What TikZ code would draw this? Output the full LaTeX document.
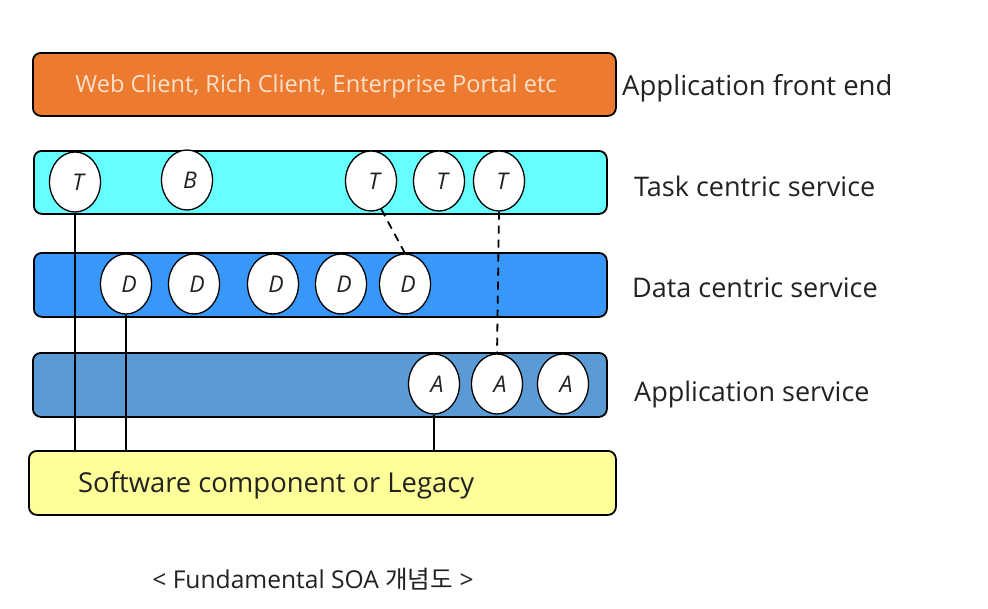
\documentclass[tikz,border=0pt]{standalone}
\usepackage{fontspec}
\setmainfont{Open Sans}
\newfontfamily\krfont{Noto Sans CJK KR}
\usetikzlibrary{shapes.geometric}
\definecolor{cOrange}{HTML}{EC7B30}
\definecolor{cCyan}{HTML}{66FFFF}
\definecolor{cData}{HTML}{3798FA}
\definecolor{cApp}{HTML}{5B9BD5}
\definecolor{cYellow}{HTML}{FFFF99}
\definecolor{cPeach}{HTML}{FBE0CC}
\definecolor{cText}{HTML}{222222}
\newcommand{\svcletter}[1]{\hspace*{6pt}#1}
\begin{document}
\begin{tikzpicture}[x=1pt,y=-1pt,
  layer/.style={draw=black,line width=1.8pt,rounded corners=8pt},
  svc/.style={ellipse,draw=black,line width=1.3pt,fill=white,inner sep=0pt,
    minimum width=51pt,minimum height=60pt,text=cText,font=\fontsize{23}{23}\selectfont\itshape},
  lbl/.style={anchor=west,inner sep=0pt,text=cText,font=\fontsize{27}{27}\selectfont},
  conn/.style={line width=1.8pt},
  dconn/.style={line width=1.8pt,dash pattern=on 8pt off 6pt}]
\useasboundingbox (0,0) rectangle (988,608);
\fill[white] (0,0) rectangle (988,608);
% layers
\node[layer,fill=cOrange,minimum width=583pt,minimum height=63pt,anchor=north west] (front) at (32,52) {};
\node[layer,fill=cCyan,minimum width=573pt,minimum height=63pt,anchor=north west] (task) at (33,150) {};
\node[layer,fill=cData,minimum width=573pt,minimum height=64pt,anchor=north west] (data) at (33,252) {};
\node[layer,fill=cApp,minimum width=574pt,minimum height=64pt,anchor=north west] (app) at (32,352) {};
\node[layer,fill=cYellow,minimum width=587pt,minimum height=64pt,anchor=north west] (soft) at (28,450) {};
\node[inner sep=0pt,text=cPeach,font=\fontsize{23.6}{23.6}\selectfont] (fronttext) at (316,86) {Web Client, Rich Client, Enterprise Portal etc};
\node[lbl,font=\fontsize{27.4}{27.4}\selectfont] (softtext) at (78,485) {Software component or Legacy};
% services
\node[svc] (t1) at (75,182) {\svcletter{T}};
\node[svc] (b1) at (187,180) {\svcletter{B}};
\node[svc] (t3) at (371,181) {\svcletter{T}};
\node[svc] (t4) at (439,181) {\svcletter{T}};
\node[svc] (t5) at (499,181) {\svcletter{T}};
\node[svc] (d1) at (126,284) {\svcletter{D}};
\node[svc] (d2) at (194,284) {\svcletter{D}};
\node[svc] (d3) at (273,284) {\svcletter{D}};
\node[svc] (d4) at (341,284) {\svcletter{D}};
\node[svc] (d5) at (405,284) {\svcletter{D}};
\node[svc] (a1) at (434,384) {\svcletter{A}};
\node[svc] (a2) at (497,384) {\svcletter{A}};
\node[svc] (a3) at (563,384) {\svcletter{A}};
% connectors
\draw[conn] (t1.south) -- (t1.south |- soft.north);
\draw[conn] (d1.south) -- (d1.south |- soft.north);
\draw[conn] (a1.south) -- (a1.south |- soft.north);
\draw[dconn] (t3.-70) -- (d5.north);
\draw[dconn] (t5.south) -- (a2.north);
% labels
\node[lbl,font=\fontsize{27.5}{27.5}\selectfont] (lfront) at (622,88) {Application front end};
\node[lbl] (ltask) at (634,186) {Task centric service};
\node[lbl] (ldata) at (632,288) {Data centric service};
\node[lbl] (lapp) at (634,394) {Application service};
\node[inner sep=0pt,text=cText,font=\fontsize{24.6}{24.6}\selectfont] (caption) at (313,579) {< Fundamental SOA {\krfont 개념도} >};
\end{tikzpicture}
\end{document}
